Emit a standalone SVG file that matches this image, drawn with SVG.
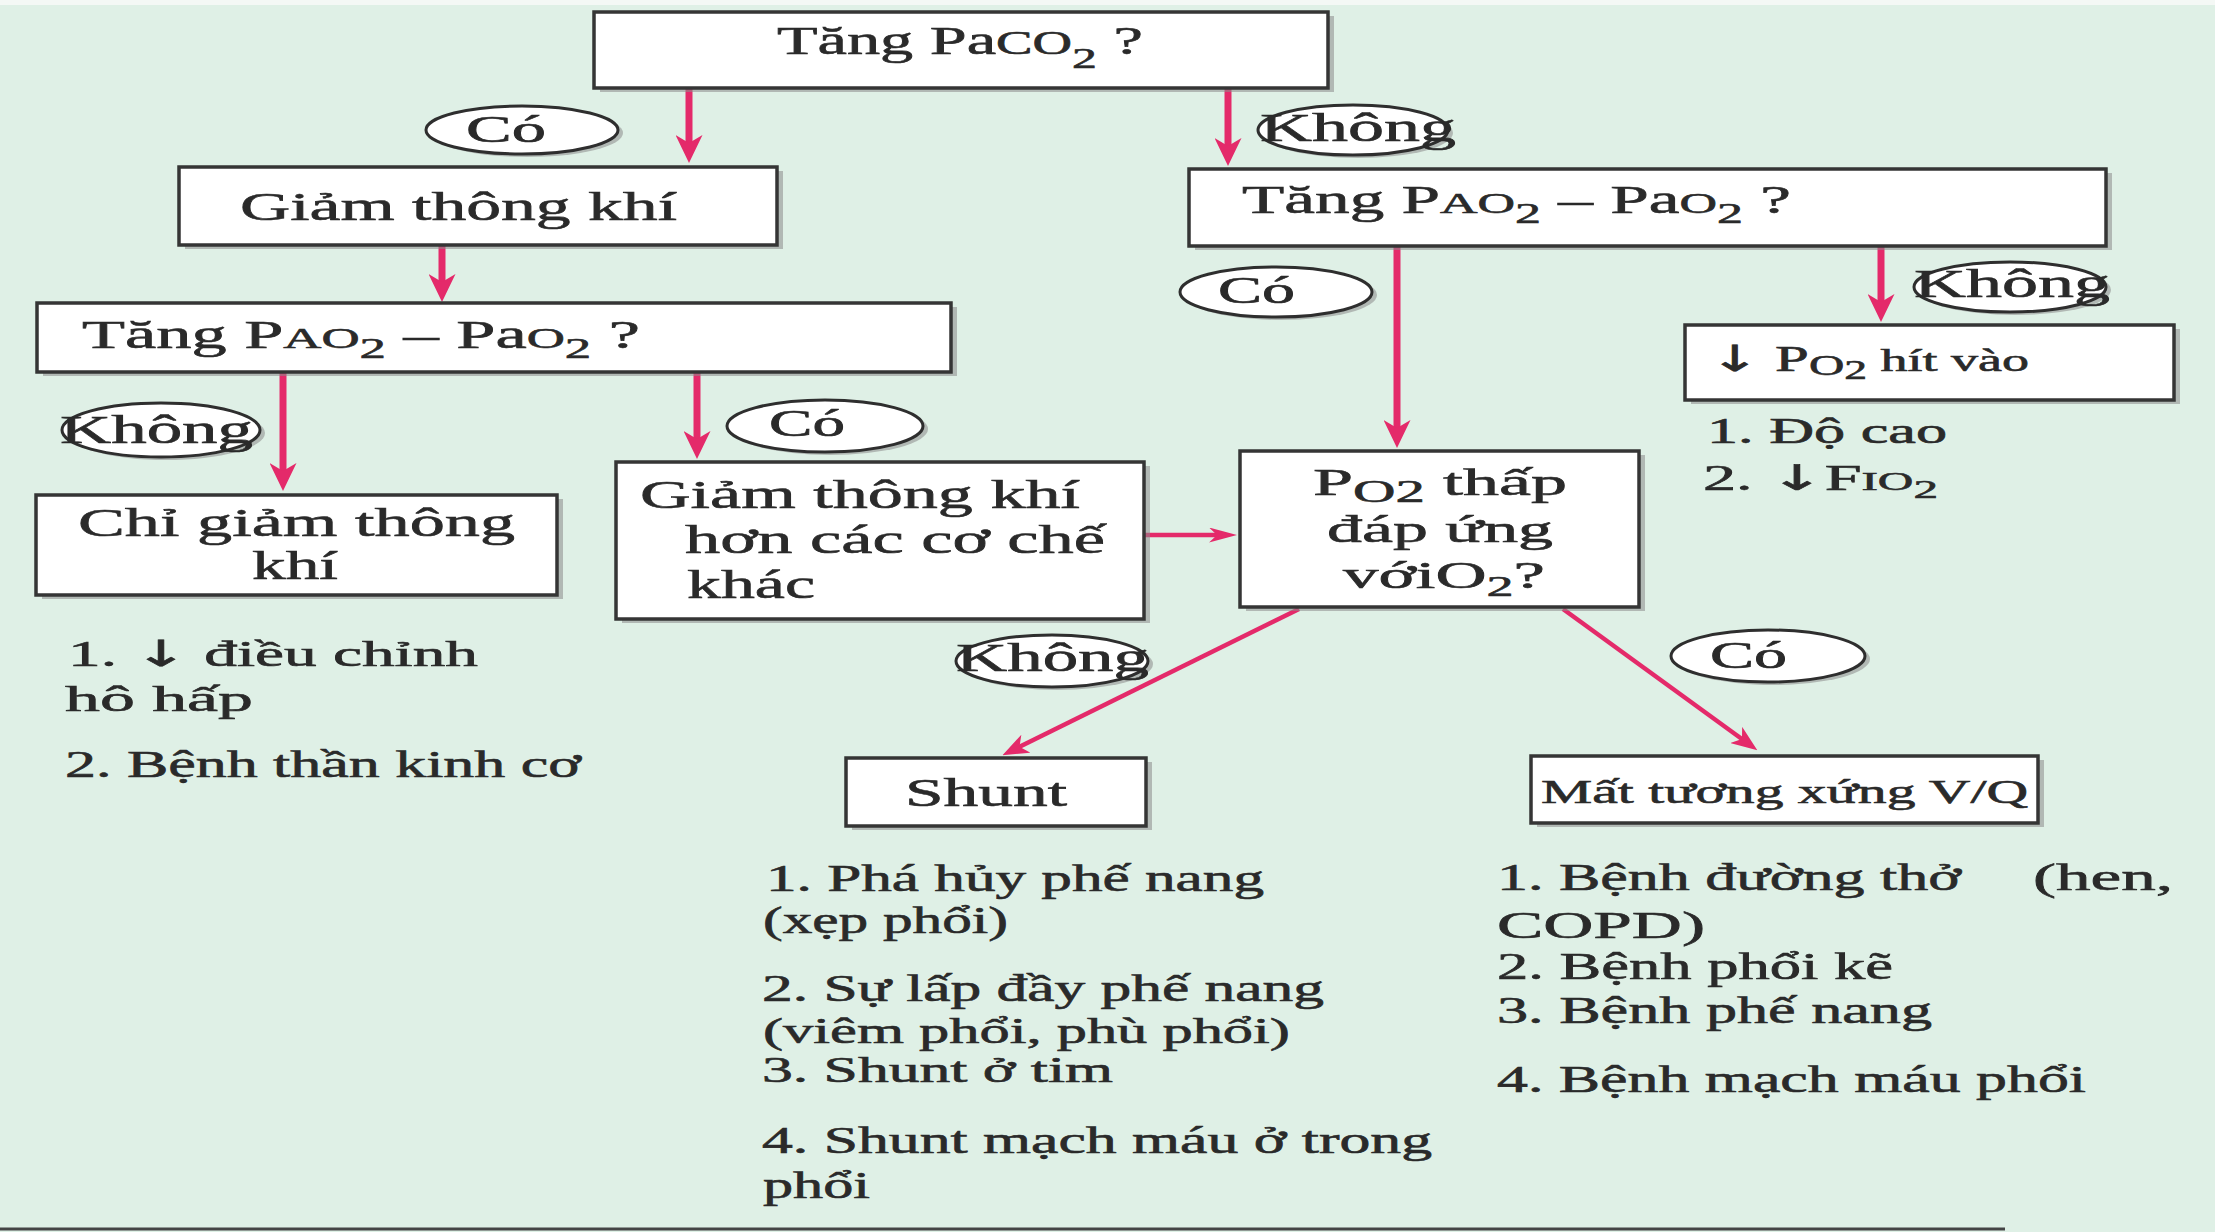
<svg xmlns="http://www.w3.org/2000/svg" width="2215" height="1232" viewBox="0 0 2215 1232">
<defs>
<style>
.bg{fill:#dff0e6}
.box{fill:#fff;stroke:#353535;stroke-width:3.5}
.shd{fill:#8a8a8a;opacity:.55}
.lab{fill:#fff;stroke:#2e2e2e;stroke-width:3}
.t{font-family:"Liberation Serif","Times New Roman",serif;fill:#2a2a2a;stroke:#2a2a2a;stroke-width:0.6}
.ar{font-family:"DejaVu Sans",sans-serif}
.c{fill:none;stroke:#e42a6a}
.cv{stroke-width:7}
.ch{stroke-width:4.5}
.cd{stroke-width:4.5}
</style>
<marker id="ahv" markerUnits="userSpaceOnUse" viewBox="0 0 28 27" refX="14" refY="13.5" markerWidth="28" markerHeight="27" orient="auto">
<path d="M0,0 L28,13.5 L0,27 L8,13.5 Z" fill="#e42a6a"/>
</marker>
<marker id="ahh" markerUnits="userSpaceOnUse" viewBox="0 0 28 15" refX="14" refY="7.5" markerWidth="28" markerHeight="15" orient="auto">
<path d="M0,0 L28,7.5 L0,15 L8,7.5 Z" fill="#e42a6a"/>
</marker>
<marker id="ahd" markerUnits="userSpaceOnUse" viewBox="0 0 26 20" refX="12" refY="10" markerWidth="26" markerHeight="20" orient="auto">
<path d="M0,0 L26,10 L0,20 L7,10 Z" fill="#e42a6a"/>
</marker>
</defs>
<rect class="bg" x="0" y="0" width="2215" height="1232"/>
<rect x="0" y="0" width="2215" height="5" fill="#f4f8f5"/>
<line x1="0" y1="1229" x2="2005" y2="1229" stroke="#444" stroke-width="3"/>

<g id="connectors">
<path class="c cv" d="M689,88 V149" marker-end="url(#ahv)"/>
<path class="c cv" d="M1228,88 V152" marker-end="url(#ahv)"/>
<path class="c cv" d="M442,245 V288" marker-end="url(#ahv)"/>
<path class="c cv" d="M283,372 V477" marker-end="url(#ahv)"/>
<path class="c cv" d="M697,372 V445" marker-end="url(#ahv)"/>
<path class="c cv" d="M1397,246 V434" marker-end="url(#ahv)"/>
<path class="c cv" d="M1881,246 V308" marker-end="url(#ahv)"/>
<path class="c ch" d="M1144,535 H1223" marker-end="url(#ahh)"/>
<path class="c cd" d="M1299,609 L1015,749" marker-end="url(#ahd)"/>
<path class="c cd" d="M1563,609 L1746,742" marker-end="url(#ahd)"/>
</g>

<g id="n-top">
<rect class="shd" x="600" y="16" width="734" height="76"/>
<rect class="box" x="594" y="12" width="734" height="76"/>
<text class="t" x="777" y="54" font-size="40" textLength="366" lengthAdjust="spacingAndGlyphs">Tăng Pa<tspan font-size="33">CO</tspan><tspan font-size="30" dy="14">2</tspan><tspan dy="-14"> ?</tspan></text>
</g>

<g id="n-giam">
<rect class="shd" x="185" y="171" width="598" height="78"/>
<rect class="box" x="179" y="167" width="598" height="78"/>
<text class="t" x="240" y="220" font-size="41" textLength="437" lengthAdjust="spacingAndGlyphs">Giảm thông khí</text>
</g>

<g id="n-tang-left">
<rect class="shd" x="43" y="307" width="914" height="69"/>
<rect class="box" x="37" y="303" width="914" height="69"/>
<text class="t" x="82" y="348" font-size="40" textLength="558" lengthAdjust="spacingAndGlyphs">Tăng P<tspan font-size="30">AO</tspan><tspan font-size="30" dy="10">2</tspan><tspan dy="-10"> – Pa</tspan><tspan font-size="30">O</tspan><tspan font-size="30" dy="10">2</tspan><tspan dy="-10"> ?</tspan></text>
</g>

<g id="n-tang-right">
<rect class="shd" x="1195" y="173" width="917" height="77"/>
<rect class="box" x="1189" y="169" width="917" height="77"/>
<text class="t" x="1242" y="213" font-size="40" textLength="549" lengthAdjust="spacingAndGlyphs">Tăng P<tspan font-size="30">AO</tspan><tspan font-size="30" dy="10">2</tspan><tspan dy="-10"> – Pa</tspan><tspan font-size="30">O</tspan><tspan font-size="30" dy="10">2</tspan><tspan dy="-10"> ?</tspan></text>
</g>

<g id="n-po2-hit">
<rect class="shd" x="1691" y="329" width="489" height="75"/>
<rect class="box" x="1685" y="325" width="489" height="75"/>
<text class="t" x="1709" y="371" font-size="36" textLength="320" lengthAdjust="spacingAndGlyphs"><tspan class="ar">↓</tspan> P<tspan font-size="29" dy="4">O</tspan><tspan font-size="27" dy="4">2</tspan><tspan font-size="32" dy="-8"> hít vào</tspan></text>
</g>
<g id="list-po2-hit">
<text class="t" x="1707" y="443" font-size="35" textLength="240" lengthAdjust="spacingAndGlyphs">1. Độ cao</text>
<text class="t" x="1703" y="490" font-size="35" textLength="235" lengthAdjust="spacingAndGlyphs">2. <tspan class="ar">↓</tspan>F<tspan font-size="26">IO</tspan><tspan font-size="26" dy="8">2</tspan></text>
</g>

<g id="n-po2-thap">
<rect class="shd" x="1246" y="455" width="399" height="156"/>
<rect class="box" x="1240" y="451" width="399" height="156"/>
<text class="t" x="1313" y="495" font-size="38" textLength="254" lengthAdjust="spacingAndGlyphs">P<tspan font-size="31" dy="7">O2</tspan><tspan dy="-7">  thấp</tspan></text>
<text class="t" x="1327" y="542" font-size="38" textLength="226" lengthAdjust="spacingAndGlyphs">đáp ứng</text>
<text class="t" x="1343" y="588" font-size="38" textLength="202" lengthAdjust="spacingAndGlyphs">vớiO<tspan font-size="29" dy="8">2</tspan><tspan dy="-8">?</tspan></text>
</g>

<g id="n-giam-hon">
<rect class="shd" x="622" y="466" width="528" height="157"/>
<rect class="box" x="616" y="462" width="528" height="157"/>
<text class="t" x="640" y="508" font-size="41" textLength="440" lengthAdjust="spacingAndGlyphs">Giảm thông khí</text>
<text class="t" x="685" y="553" font-size="41" textLength="420" lengthAdjust="spacingAndGlyphs">hơn các cơ chế</text>
<text class="t" x="687" y="598" font-size="41" textLength="128" lengthAdjust="spacingAndGlyphs">khác</text>
</g>

<g id="n-chi-giam">
<rect class="shd" x="42" y="499" width="521" height="100"/>
<rect class="box" x="36" y="495" width="521" height="100"/>
<text class="t" x="78" y="536" font-size="41" textLength="437" lengthAdjust="spacingAndGlyphs">Chỉ giảm thông</text>
<text class="t" x="252" y="579" font-size="41" textLength="86" lengthAdjust="spacingAndGlyphs">khí</text>
</g>
<g id="list-chi-giam">
<text class="t" x="68" y="666" font-size="36" textLength="410" lengthAdjust="spacingAndGlyphs">1. <tspan class="ar">↓</tspan> điều chỉnh</text>
<text class="t" x="65" y="711" font-size="36" textLength="188" lengthAdjust="spacingAndGlyphs">hô hấp</text>
<text class="t" x="65" y="777" font-size="37" textLength="516" lengthAdjust="spacingAndGlyphs">2. Bệnh thần kinh cơ</text>
</g>

<g id="n-shunt">
<rect class="shd" x="852" y="762" width="300" height="68"/>
<rect class="box" x="846" y="758" width="300" height="68"/>
<text class="t" x="905" y="806" font-size="40" textLength="162" lengthAdjust="spacingAndGlyphs">Shunt</text>
</g>
<g id="list-shunt">
<text class="t" x="766" y="891" font-size="37" textLength="498" lengthAdjust="spacingAndGlyphs">1. Phá hủy phế nang</text>
<text class="t" x="763" y="933" font-size="37" textLength="245" lengthAdjust="spacingAndGlyphs">(xẹp phổi)</text>
<text class="t" x="762" y="1001" font-size="37" textLength="562" lengthAdjust="spacingAndGlyphs">2. Sự lấp đầy phế nang</text>
<text class="t" x="763" y="1043" font-size="36" textLength="527" lengthAdjust="spacingAndGlyphs">(viêm phổi, phù phổi)</text>
<text class="t" x="762" y="1082" font-size="36" textLength="351" lengthAdjust="spacingAndGlyphs">3. Shunt ở tim</text>
<text class="t" x="762" y="1153" font-size="37" textLength="670" lengthAdjust="spacingAndGlyphs">4. Shunt mạch máu ở trong</text>
<text class="t" x="763" y="1198" font-size="37" textLength="107" lengthAdjust="spacingAndGlyphs">phổi</text>
</g>

<g id="n-vq">
<rect class="shd" x="1537" y="760" width="507" height="67"/>
<rect class="box" x="1531" y="756" width="507" height="67"/>
<text class="t" x="1541" y="803" font-size="33" textLength="487" lengthAdjust="spacingAndGlyphs">Mất tương xứng V/Q</text>
</g>
<g id="list-vq">
<text class="t" x="1497" y="890" font-size="37" textLength="464" lengthAdjust="spacingAndGlyphs">1. Bệnh đường thở</text>
<text class="t" x="2033" y="890" font-size="37" textLength="140" lengthAdjust="spacingAndGlyphs">(hen,</text>
<text class="t" x="1497" y="938" font-size="37" textLength="208" lengthAdjust="spacingAndGlyphs">COPD)</text>
<text class="t" x="1497" y="979" font-size="37" textLength="396" lengthAdjust="spacingAndGlyphs">2. Bệnh phổi kẽ</text>
<text class="t" x="1497" y="1023" font-size="37" textLength="435" lengthAdjust="spacingAndGlyphs">3. Bệnh phế nang</text>
<text class="t" x="1497" y="1092" font-size="37" textLength="589" lengthAdjust="spacingAndGlyphs">4. Bệnh mạch máu phổi</text>
</g>

<g id="lab-co-1">
<ellipse class="shd" cx="527" cy="133" rx="96" ry="24"/>
<ellipse class="lab" cx="522" cy="130" rx="96" ry="24"/>
<text class="t" x="466" y="142" font-size="37" textLength="80" lengthAdjust="spacingAndGlyphs">Có</text>
</g>
<g id="lab-khong-1">
<ellipse class="shd" cx="1358" cy="133" rx="95" ry="25"/>
<ellipse class="lab" cx="1353" cy="130" rx="95" ry="25"/>
<text class="t" x="1260" y="141" font-size="39" textLength="196" lengthAdjust="spacingAndGlyphs">Không</text>
</g>
<g id="lab-co-2">
<ellipse class="shd" cx="1281" cy="295" rx="96" ry="25"/>
<ellipse class="lab" cx="1276" cy="292" rx="96" ry="25"/>
<text class="t" x="1218" y="303" font-size="37" textLength="77" lengthAdjust="spacingAndGlyphs">Có</text>
</g>
<g id="lab-khong-2">
<ellipse class="shd" cx="2015" cy="290" rx="96" ry="25"/>
<ellipse class="lab" cx="2010" cy="287" rx="96" ry="25"/>
<text class="t" x="1914" y="297" font-size="39" textLength="196" lengthAdjust="spacingAndGlyphs">Không</text>
</g>
<g id="lab-khong-3">
<ellipse class="shd" cx="166" cy="433" rx="99" ry="27"/>
<ellipse class="lab" cx="161" cy="430" rx="99" ry="27"/>
<text class="t" x="60" y="443" font-size="39" textLength="193" lengthAdjust="spacingAndGlyphs">Không</text>
</g>
<g id="lab-co-3">
<ellipse class="shd" cx="830" cy="429" rx="98" ry="26"/>
<ellipse class="lab" cx="825" cy="426" rx="98" ry="26"/>
<text class="t" x="769" y="436" font-size="37" textLength="76" lengthAdjust="spacingAndGlyphs">Có</text>
</g>
<g id="lab-khong-4">
<ellipse class="shd" cx="1057" cy="664" rx="96" ry="26"/>
<ellipse class="lab" cx="1052" cy="661" rx="96" ry="26"/>
<text class="t" x="956" y="671" font-size="39" textLength="193" lengthAdjust="spacingAndGlyphs">Không</text>
</g>
<g id="lab-co-4">
<ellipse class="shd" cx="1773" cy="659" rx="97" ry="26"/>
<ellipse class="lab" cx="1768" cy="656" rx="97" ry="26"/>
<text class="t" x="1710" y="668" font-size="37" textLength="77" lengthAdjust="spacingAndGlyphs">Có</text>
</g>
</svg>
